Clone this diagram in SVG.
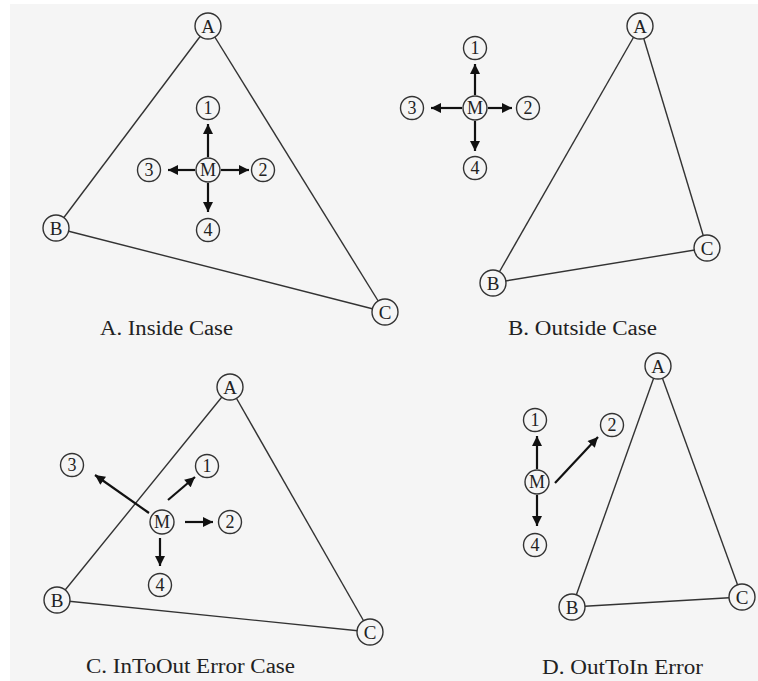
<svg xmlns="http://www.w3.org/2000/svg" width="758" height="681" viewBox="0 0 758 681">
<defs>
<marker id="ah" viewBox="0 0 10 10" refX="10" refY="5" markerWidth="11" markerHeight="10" markerUnits="userSpaceOnUse" orient="auto">
<path d="M0,0 L10,5 L0,10 Z" fill="#111"/>
</marker>
<style>
.bg{fill:#f5f5f5}
.edge{stroke:#333;stroke-width:1.4;fill:none}
.arr{stroke:#111;stroke-width:2.2;fill:none;marker-end:url(#ah)}
.v circle{fill:#f5f5f5;stroke:#333;stroke-width:1.4}
.v text{font-family:"Liberation Serif","Times New Roman",serif;font-size:19px;fill:#222;text-anchor:middle;dominant-baseline:central}
.n text{font-size:18px}
.cap{font-family:"Liberation Serif","Times New Roman",serif;font-size:20px;fill:#222}
</style>
</defs>
<rect x="0" y="0" width="758" height="681" fill="#ffffff"/>
<rect class="bg" x="10" y="4" width="748" height="677"/>

<g id="connectors">
<!-- Panel A -->
<line class="edge" x1="208" y1="26" x2="56" y2="228"/>
<line class="edge" x1="208" y1="26" x2="385" y2="312"/>
<line class="edge" x1="56" y1="228" x2="385" y2="312"/>
<line class="arr" x1="208" y1="157" x2="208" y2="124"/>
<line class="arr" x1="195" y1="170" x2="168" y2="170"/>
<line class="arr" x1="221" y1="170" x2="249" y2="170"/>
<line class="arr" x1="208" y1="183" x2="208" y2="212"/>
<!-- Panel B -->
<line class="edge" x1="640" y1="26" x2="493" y2="283"/>
<line class="edge" x1="640" y1="26" x2="707" y2="248"/>
<line class="edge" x1="493" y1="283" x2="707" y2="248"/>
<line class="arr" x1="475" y1="95" x2="475" y2="64"/>
<line class="arr" x1="462" y1="108" x2="431" y2="108"/>
<line class="arr" x1="488" y1="108" x2="512" y2="108"/>
<line class="arr" x1="475" y1="121" x2="475" y2="151"/>
<!-- Panel C -->
<line class="edge" x1="230" y1="387" x2="57" y2="600"/>
<line class="edge" x1="230" y1="387" x2="370" y2="632"/>
<line class="edge" x1="57" y1="600" x2="370" y2="632"/>
<line class="arr" x1="149" y1="513" x2="95" y2="475"/>
<line class="arr" x1="168" y1="500" x2="195" y2="477"/>
<line class="arr" x1="185" y1="522" x2="213" y2="522"/>
<line class="arr" x1="160" y1="538" x2="160" y2="566"/>
<!-- Panel D -->
<line class="edge" x1="658" y1="366" x2="572" y2="607"/>
<line class="edge" x1="658" y1="366" x2="742" y2="597"/>
<line class="edge" x1="572" y1="607" x2="742" y2="597"/>
<line class="arr" x1="537" y1="469" x2="537" y2="436"/>
<line class="arr" x1="555" y1="483" x2="598" y2="437"/>
<line class="arr" x1="537" y1="495" x2="537" y2="526"/>
</g>

<!-- Panel A nodes -->
<g id="a-A" class="v"><circle cx="208" cy="26" r="13"/><text x="208" y="26">A</text></g>
<g id="a-B" class="v"><circle cx="56" cy="228" r="13"/><text x="56" y="228">B</text></g>
<g id="a-C" class="v"><circle cx="385" cy="312" r="13"/><text x="385" y="312">C</text></g>
<g id="a-M" class="v n"><circle cx="208" cy="170" r="12"/><text x="208" y="170">M</text></g>
<g id="a-1" class="v n"><circle cx="208" cy="108" r="11.5"/><text x="208" y="108">1</text></g>
<g id="a-2" class="v n"><circle cx="263" cy="170" r="11.5"/><text x="263" y="170">2</text></g>
<g id="a-3" class="v n"><circle cx="149" cy="170" r="11.5"/><text x="149" y="170">3</text></g>
<g id="a-4" class="v n"><circle cx="208" cy="230" r="11.5"/><text x="208" y="230">4</text></g>
<text class="cap" x="100" y="335" textLength="133" lengthAdjust="spacingAndGlyphs">A. Inside Case</text>

<!-- Panel B nodes -->
<g id="b-A" class="v"><circle cx="640" cy="26" r="13"/><text x="640" y="26">A</text></g>
<g id="b-B" class="v"><circle cx="493" cy="283" r="13"/><text x="493" y="283">B</text></g>
<g id="b-C" class="v"><circle cx="707" cy="248" r="13"/><text x="707" y="248">C</text></g>
<g id="b-M" class="v n"><circle cx="475" cy="108" r="12"/><text x="475" y="108">M</text></g>
<g id="b-1" class="v n"><circle cx="475" cy="48" r="11.5"/><text x="475" y="48">1</text></g>
<g id="b-2" class="v n"><circle cx="528" cy="108" r="11.5"/><text x="528" y="108">2</text></g>
<g id="b-3" class="v n"><circle cx="412" cy="108" r="11.5"/><text x="412" y="108">3</text></g>
<g id="b-4" class="v n"><circle cx="475" cy="168" r="11.5"/><text x="475" y="168">4</text></g>
<text class="cap" x="508" y="335" textLength="149" lengthAdjust="spacingAndGlyphs">B. Outside Case</text>

<!-- Panel C nodes -->
<g id="c-A" class="v"><circle cx="230" cy="387" r="13"/><text x="230" y="387">A</text></g>
<g id="c-B" class="v"><circle cx="57" cy="600" r="13"/><text x="57" y="600">B</text></g>
<g id="c-C" class="v"><circle cx="370" cy="632" r="13"/><text x="370" y="632">C</text></g>
<g id="c-M" class="v n"><circle cx="162" cy="522" r="12"/><text x="162" y="522">M</text></g>
<g id="c-1" class="v n"><circle cx="207" cy="466" r="11.5"/><text x="207" y="466">1</text></g>
<g id="c-2" class="v n"><circle cx="230" cy="522" r="11.5"/><text x="230" y="522">2</text></g>
<g id="c-3" class="v n"><circle cx="72" cy="465" r="11.5"/><text x="72" y="465">3</text></g>
<g id="c-4" class="v n"><circle cx="160" cy="585" r="11.5"/><text x="160" y="585">4</text></g>
<text class="cap" x="86" y="673" textLength="209" lengthAdjust="spacingAndGlyphs">C. InToOut Error Case</text>

<!-- Panel D nodes -->
<g id="d-A" class="v"><circle cx="658" cy="366" r="13"/><text x="658" y="366">A</text></g>
<g id="d-B" class="v"><circle cx="572" cy="607" r="13"/><text x="572" y="607">B</text></g>
<g id="d-C" class="v"><circle cx="742" cy="597" r="13"/><text x="742" y="597">C</text></g>
<g id="d-M" class="v n"><circle cx="537" cy="482" r="12"/><text x="537" y="482">M</text></g>
<g id="d-1" class="v n"><circle cx="535" cy="420" r="11.5"/><text x="535" y="420">1</text></g>
<g id="d-2" class="v n"><circle cx="612" cy="425" r="11.5"/><text x="612" y="425">2</text></g>
<g id="d-4" class="v n"><circle cx="535" cy="545" r="11.5"/><text x="535" y="545">4</text></g>
<text class="cap" x="542" y="674" textLength="161" lengthAdjust="spacingAndGlyphs">D. OutToIn Error</text>
</svg>
